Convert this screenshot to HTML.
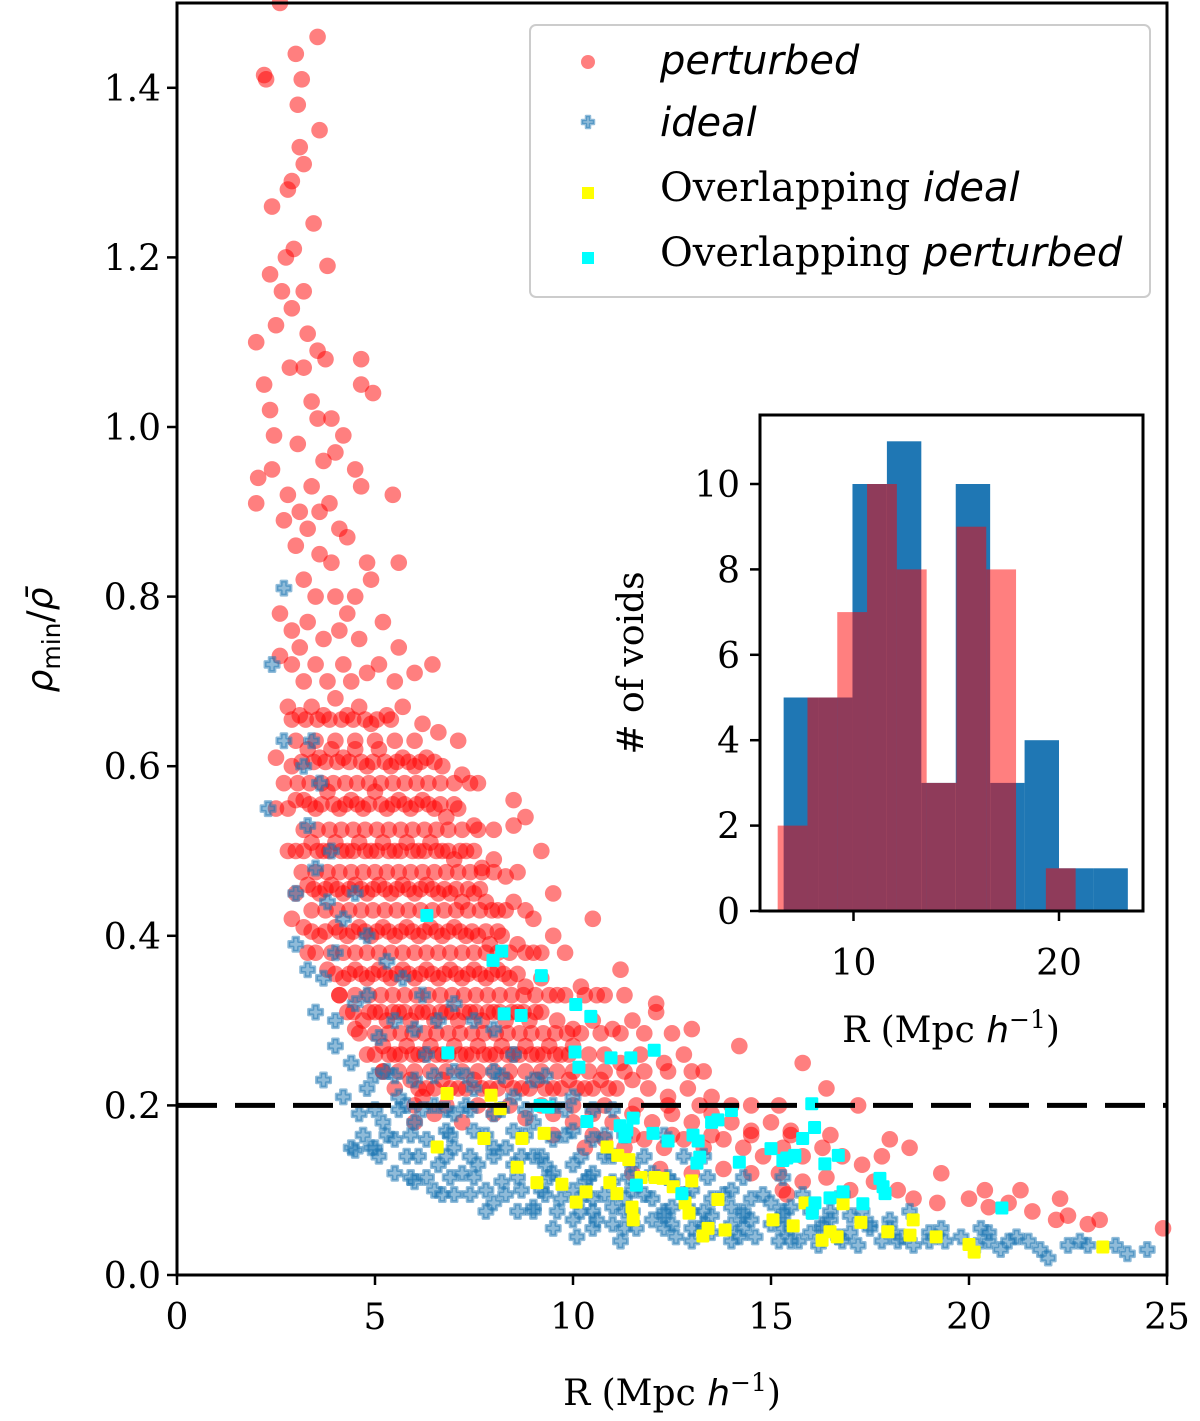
<!DOCTYPE html>
<html><head><meta charset="utf-8"><style>
html,body{margin:0;padding:0;background:#fff}
svg{display:block}
text{font-family:"DejaVu Serif","Liberation Serif",serif;fill:#000}
.it{font-family:"DejaVu Sans","Liberation Sans",sans-serif;font-style:italic}
</style></head><body>
<svg id="chart" width="1200" height="1421" viewBox="0 0 1200 1421" xmlns="http://www.w3.org/2000/svg">
<g id="main-marks"></g>
<g id="inset"></g>
<g id="axes"></g>
</svg>
<script>
const perturbedPts = [[2.2,1.415],[2.25,1.41],[2.6,1.5],[3.0,1.44],[3.15,1.41],[3.55,1.46],[3.05,1.38],[3.1,1.33],[2.9,1.29],[3.2,1.31],[2.8,1.28],[3.6,1.35],[3.45,1.24],[2.4,1.26],[2.35,1.18],[2.0,1.1],[2.65,1.16],[2.75,1.2],[2.95,1.21],[3.2,1.16],[3.8,1.19],[2.5,1.12],[2.9,1.14],[3.3,1.11],[3.2,1.07],[2.85,1.07],[3.55,1.09],[3.75,1.08],[4.65,1.08],[4.65,1.05],[4.95,1.04],[2.2,1.05],[2.35,1.02],[2.45,0.99],[3.05,0.98],[3.4,1.03],[3.55,1.01],[3.9,1.01],[4.2,0.99],[2.05,0.94],[2.4,0.95],[2.8,0.92],[3.1,0.9],[3.4,0.93],[3.7,0.96],[4.0,0.97],[4.5,0.95],[4.65,0.93],[5.45,0.92],[2.0,0.91],[2.7,0.89],[3.3,0.88],[3.6,0.9],[3.85,0.91],[4.1,0.88],[3.0,0.86],[3.6,0.85],[3.9,0.84],[4.3,0.87],[4.8,0.84],[5.6,0.84],[3.2,0.82],[3.5,0.8],[4.0,0.8],[4.3,0.78],[4.5,0.8],[4.9,0.82],[2.6,0.78],[2.9,0.76],[3.1,0.74],[3.3,0.77],[3.7,0.75],[4.1,0.76],[4.6,0.75],[5.2,0.77],[5.6,0.74],[6.45,0.72],[2.6,0.73],[2.9,0.72],[3.2,0.7],[3.5,0.72],[3.8,0.7],[4.2,0.72],[4.4,0.7],[4.8,0.71],[5.1,0.72],[5.5,0.7],[6.0,0.71],[2.8,0.67],[3.1,0.66],[3.4,0.67],[3.7,0.66],[4.0,0.68],[4.3,0.66],[4.6,0.67],[4.9,0.65],[5.3,0.66],[5.7,0.67],[6.2,0.65],[6.6,0.64],[7.1,0.63],
[2.5,0.61],[2.9,0.6],[3.3,0.62],[3.6,0.61],[3.9,0.62],[4.2,0.61],[4.5,0.62],[4.8,0.6],[5.1,0.62],[5.4,0.6],[5.7,0.61],[6.0,0.6],[6.3,0.61],[6.7,0.6],[7.2,0.59],[7.6,0.58],
[2.8,0.55],[3.2,0.56],[3.5,0.55],[3.8,0.57],[4.1,0.55],[4.4,0.56],[4.7,0.55],[5.0,0.57],[5.3,0.55],[5.6,0.56],[5.9,0.55],[6.2,0.56],[6.5,0.55],[6.8,0.54],[7.1,0.55],[7.5,0.53],[8.5,0.56],[8.8,0.54],
[3.0,0.5],[3.4,0.51],[3.7,0.5],[4.0,0.51],[4.3,0.5],[4.6,0.51],[4.9,0.5],[5.2,0.51],[5.5,0.5],[5.8,0.51],[6.1,0.5],[6.4,0.51],[6.7,0.5],[7.0,0.49],[7.3,0.5],[7.7,0.48],[8.0,0.49],[8.3,0.47],
[3.0,0.45],[3.3,0.46],[3.6,0.45],[3.9,0.46],[4.2,0.45],[4.5,0.46],[4.8,0.45],[5.1,0.46],[5.4,0.45],[5.7,0.46],[6.0,0.45],[6.3,0.46],[6.6,0.45],[6.9,0.45],[7.2,0.44],[7.5,0.45],[7.8,0.44],[8.1,0.43],[8.5,0.44],[9.0,0.42],
[3.2,0.41],[3.6,0.4],[4.0,0.41],[4.3,0.4],[4.6,0.41],[4.9,0.4],[5.2,0.41],[5.5,0.4],[5.8,0.41],[6.1,0.4],[6.4,0.41],[6.7,0.4],[7.0,0.41],[7.3,0.4],[7.6,0.4],[7.9,0.39],[8.2,0.4],[8.6,0.39],[9.0,0.38],[9.5,0.4],
[3.8,0.36],[4.2,0.35],[4.5,0.36],[4.8,0.35],[5.1,0.36],[5.4,0.35],[5.7,0.36],[6.0,0.35],[6.3,0.36],[6.6,0.35],[6.9,0.36],[7.2,0.35],[7.5,0.36],[7.8,0.35],[8.1,0.36],[8.4,0.35],[8.8,0.34],[9.2,0.35],[9.6,0.33],[10.2,0.34],[10.6,0.33],
[4.3,0.31],[4.7,0.3],[5.0,0.31],[5.3,0.3],[5.6,0.31],[5.9,0.3],[6.2,0.31],[6.5,0.3],[6.8,0.31],[7.1,0.3],[7.4,0.31],[7.7,0.3],[8.0,0.31],[8.3,0.3],[8.6,0.31],[8.9,0.3],[9.2,0.31],[9.6,0.3],[10.0,0.29],[10.5,0.3],[11.0,0.29],[11.5,0.3],[12.1,0.31],
[4.8,0.26],[5.2,0.27],[5.5,0.26],[5.8,0.27],[6.1,0.26],[6.4,0.27],[6.7,0.26],[7.0,0.27],[7.3,0.26],[7.6,0.27],[7.9,0.26],[8.2,0.27],[8.5,0.26],[8.8,0.27],[9.1,0.26],[9.4,0.27],[9.7,0.26],[10.0,0.27],[10.4,0.26],[10.8,0.26],[11.2,0.25],[11.7,0.26],[12.3,0.25],[12.8,0.26],[13.3,0.24],
[5.5,0.22],[5.9,0.23],[6.3,0.22],[6.7,0.23],[7.1,0.22],[7.5,0.23],[7.9,0.22],[8.3,0.23],[8.7,0.22],[9.1,0.23],[9.5,0.22],[9.9,0.23],[10.3,0.22],[10.7,0.23],[11.1,0.22],[11.5,0.23],[11.9,0.22],[12.4,0.21],[12.9,0.22],[13.5,0.21],[14.0,0.2],
[6.0,0.18],[6.5,0.19],[7.2,0.18],[8.0,0.19],[8.8,0.185],[9.5,0.19],[10.0,0.18],[10.5,0.19],[11.0,0.18],[11.5,0.19],[12.0,0.18],[12.5,0.19],[13.0,0.18],[13.5,0.19],[14.0,0.18],[14.5,0.17],[15.0,0.18],[15.5,0.17],
[10.3,0.15],[10.8,0.16],[11.3,0.15],[11.8,0.16],[12.3,0.15],[12.8,0.16],[13.3,0.15],[13.8,0.16],[14.3,0.15],[14.8,0.14],[15.3,0.15],[15.8,0.14],[16.3,0.15],[16.8,0.14],[17.3,0.13],[17.8,0.14],
[11.5,0.12],[12.2,0.125],[13.0,0.12],[13.8,0.125],[14.5,0.12],[15.2,0.12],[15.8,0.11],[16.4,0.115],[17.0,0.1],[17.6,0.11],[18.2,0.1],[18.6,0.09],[19.2,0.085],[20.0,0.09],[20.5,0.08],[21.0,0.085],[21.6,0.075],[22.2,0.065],[23.0,0.06],[24.9,0.055],[22.5,0.07],[15.3,0.1],[15.4,0.095],
[8.5,0.53],[9.2,0.5],[9.5,0.45],[10.5,0.42],[11.2,0.36],[12.1,0.32],[13.0,0.29],[14.2,0.27],[15.8,0.25],[16.4,0.22],[17.2,0.2],[18.0,0.16],[18.5,0.15],[19.3,0.12],[20.4,0.1],[21.3,0.1],[22.3,0.09],[23.3,0.065],[2.8,0.5],[3.0,0.56],[2.5,0.55],[3.3,0.38],[2.9,0.42],[4.1,0.33],[4.5,0.29],[5.2,0.24],[6.2,0.21]];
// additional perturbed points read from the dense core, grouped by rho: [rho, [R values]]
const perturbedCoreRows = [
[0.655,[2.9,3.25,3.55,3.85,4.15,4.45,4.75,5.05,5.4]],
[0.63,[3.0,3.5,4.0,4.5,5.0,5.5,6.0]],
[0.605,[3.15,3.45,3.75,4.05,4.35,4.65,4.95,5.25,5.55,5.85,6.15,6.5]],
[0.58,[2.7,3.05,3.35,3.65,3.95,4.25,4.55,4.85,5.15,5.45,5.75,6.05,6.35,6.65,7.0,7.4]],
[0.555,[3.35,3.65,3.95,4.25,4.55,4.85,5.15,5.45,5.75,6.05,6.35,6.65,7.0]],
[0.525,[3.2,3.55,3.85,4.15,4.45,4.75,5.05,5.35,5.65,5.95,6.25,6.55,6.85,7.2,7.6,8.0]],
[0.5,[3.2,3.55,3.85,4.15,4.45,4.75,5.05,5.35,5.65,5.95,6.25,6.55,6.85,7.15,7.5]],
[0.475,[3.15,3.5,3.8,4.1,4.4,4.7,5.0,5.3,5.6,5.9,6.2,6.5,6.8,7.1,7.4,7.7,8.0,8.6]],
[0.455,[3.45,3.75,4.05,4.35,4.65,4.95,5.25,5.55,5.85,6.15,6.45,6.75,7.05,7.35,7.65]],
[0.43,[3.4,3.75,4.05,4.35,4.65,4.95,5.25,5.55,5.85,6.15,6.45,6.75,7.05,7.35,7.65,7.95,8.3,8.8]],
[0.405,[3.4,3.75,4.1,4.45,4.75,5.05,5.35,5.65,5.95,6.25,6.55,6.85,7.15,7.45,7.8,8.1]],
[0.38,[3.5,3.9,4.2,4.5,4.8,5.1,5.4,5.7,6.0,6.3,6.6,6.9,7.2,7.5,7.8,8.1,8.4,8.8,9.2,9.8]],
[0.355,[4.0,4.35,4.65,4.95,5.25,5.55,5.85,6.15,6.45,6.75,7.05,7.35,7.65,7.95,8.25,8.6]],
[0.33,[4.1,4.5,4.85,5.15,5.45,5.75,6.05,6.35,6.65,6.95,7.25,7.55,7.85,8.15,8.45,8.75,9.05,9.4,9.8,10.3,10.8,11.3]],
[0.31,[4.45,4.85,5.15,5.45,5.75,6.05,6.35,6.65,6.95,7.25,7.55,7.85,8.15,8.45,8.75,9.05]],
[0.285,[4.6,5.0,5.35,5.65,5.95,6.25,6.55,6.85,7.15,7.45,7.75,8.05,8.35,8.65,8.95,9.25,9.55,9.85,10.2,10.7,11.2,11.8,12.5]],
[0.26,[5.0,5.35,5.65,5.95,6.25,6.55,6.85,7.15,7.45,7.75,8.05,8.35,8.65,8.95,9.25,9.55,9.9]],
[0.24,[5.2,5.6,6.0,6.4,6.8,7.2,7.6,8.0,8.4,8.8,9.2,9.6,10.0,10.4,10.8,11.3,11.8,12.4,13.0]],
[0.22,[6.1,6.5,6.9,7.3,7.7,8.1,8.5,8.9,9.3,9.7,10.1,10.5,10.9]],
[0.2,[6.0,6.8,7.6,8.4,9.2,10.0,10.8,11.6,12.4,13.2,14.5,15.2]],
[0.165,[9.5,10.5,11.5,12.5,13.5,14.5,15.5,16.5]]];
const idealPts = [[2.7,0.81],[2.4,0.72],[2.7,0.63],[2.3,0.55],[3.2,0.6],[3.4,0.63],[3.6,0.58],[3.3,0.53],[3.5,0.48],[3.0,0.45],[3.9,0.5],[3.8,0.44],[3.0,0.39],[3.3,0.36],[3.7,0.35],[4.0,0.38],[4.2,0.42],[4.5,0.45],[4.8,0.4],[3.5,0.31],[4.0,0.3],[4.5,0.32],[4.8,0.33],[5.3,0.37],[5.7,0.35],[6.2,0.33],[4.0,0.27],[4.4,0.25],[3.7,0.23],[4.2,0.21],[4.6,0.19],[4.4,0.15],[4.9,0.15],[4.8,0.22],[5.1,0.28],[5.5,0.3],[6.0,0.29],[6.6,0.3],[7.0,0.32],[7.5,0.3],[8.0,0.29],[5.3,0.24],[5.6,0.21],[5.2,0.18],[5.5,0.16],[5.8,0.14],[6.0,0.18],[6.0,0.23],[6.3,0.26],[6.5,0.2],[6.3,0.16],[6.6,0.13],[7.0,0.24],[7.0,0.19],[7.0,0.15],[7.2,0.12],[7.5,0.22],[7.5,0.17],[7.6,0.13],[7.8,0.1],[8.0,0.24],[8.0,0.19],[8.0,0.15],[8.2,0.11],[8.5,0.26],[8.5,0.21],[8.5,0.17],[8.5,0.13],[8.7,0.1],[9.0,0.23],[9.0,0.18],[9.0,0.14],[9.2,0.1],[9.0,0.08],[9.5,0.2],[9.5,0.16],[9.5,0.12],[9.7,0.09],[10.0,0.21],[10.0,0.17],[10.0,0.13],[10.0,0.1],[10.2,0.075],[10.5,0.16],[10.5,0.12],[10.5,0.09],[10.6,0.065],[11.0,0.14],[11.0,0.11],[11.0,0.08],[11.0,0.06],[11.5,0.13],[11.5,0.1],[11.5,0.075],[11.6,0.055],[12.0,0.12],[12.0,0.09],[12.0,0.065],[12.5,0.11],[12.5,0.08],[12.5,0.06],[12.6,0.045],[13.0,0.1],[13.0,0.075],[13.0,0.055],[13.5,0.09],[13.5,0.07],[13.5,0.05],[14.0,0.1],[14.0,0.08],[14.0,0.06],[14.2,0.045],[14.5,0.09],[14.5,0.065],[14.6,0.045],[15.0,0.085],[15.0,0.06],[15.2,0.04],[15.5,0.08],[15.5,0.055],[15.7,0.04],[16.0,0.075],[16.0,0.05],[16.2,0.035],[16.5,0.065],[16.7,0.045],[17.0,0.07],[17.0,0.05],[17.2,0.035],[17.5,0.06],[17.8,0.04],[18.0,0.065],[18.3,0.045],[18.6,0.035],[19.0,0.05],[19.4,0.04],[19.8,0.045],[20.2,0.035],[20.5,0.05],[20.8,0.03],[21.2,0.045],[21.5,0.04],[21.8,0.03],[22.0,0.02],[22.5,0.035],[23.0,0.035],[23.7,0.035],[24.0,0.025],[24.5,0.03],[4.5,0.147],[5.0,0.15],[5.5,0.12],[6.0,0.11],[6.5,0.1],[7.0,0.095],[8.0,0.085],[9.0,0.075],[10.0,0.065],[10.1,0.045],[5.8,0.2],[6.8,0.17],[7.3,0.2],[8.3,0.15],[9.3,0.13],[10.3,0.11],[11.3,0.09],[12.3,0.07],[13.3,0.06],[14.3,0.07],[15.3,0.07],[16.3,0.06]];
const idealCoreRows = [
[0.235,[5.0,5.5,6.5,7.3,8.2,9.3]],
[0.195,[5.0,5.6,6.2,6.8,7.4,8.2,8.8,9.8,10.5,11.0]],
[0.165,[4.7,5.3,5.9,6.9,7.8,8.8,9.8,10.8,11.3,12.3]],
[0.14,[5.1,6.1,6.8,7.4,8.0,8.7,9.2,10.2,10.8,11.8,12.8,13.3]],
[0.115,[5.9,6.3,6.9,7.5,8.6,9.4,10.4,11.4,12.4,13.4,14.3,15.3]],
[0.095,[6.7,7.4,8.3,9.3,10.3,10.8,11.8,12.8,13.8,14.8,15.8,16.8]],
[0.075,[7.8,8.6,9.6,10.5,11.3,12.3,13.3,14.3,15.3,16.5,17.3,18.5]],
[0.055,[9.5,10.5,11.3,12.3,13.3,14.3,15.3,16.3,17.5,18.0,19.3,20.3]],
[0.04,[11.2,13.0,14.0,15.5,16.8,18.2,19.0,20.5,21.0,22.8]]];
const overlapIdealPts = [[6.82,0.214],[7.93,0.212],[8.16,0.196],[6.57,0.151],[7.75,0.161],[8.71,0.161],[9.27,0.167],[8.59,0.127],[9.09,0.109],[9.72,0.107],[10.08,0.086],[10.33,0.098],[10.86,0.151],[11.13,0.141],[11.41,0.136],[10.93,0.109],[11.11,0.096],[11.49,0.08],[11.52,0.065],[11.72,0.115],[12.07,0.115],[12.27,0.114],[12.53,0.104],[12.83,0.085],[12.93,0.073],[13.0,0.111],[13.41,0.055],[13.28,0.046],[13.84,0.053],[13.66,0.089],[15.05,0.065],[15.56,0.058],[15.86,0.085],[16.82,0.084],[17.27,0.062],[16.29,0.041],[16.49,0.051],[16.67,0.045],[17.95,0.051],[18.51,0.047],[18.59,0.065],[19.17,0.045],[20.0,0.036],[20.13,0.027],[23.38,0.033]];
const overlapPerturbedPts = [[6.31,0.424],[8.2,0.382],[7.98,0.371],[9.2,0.353],[10.07,0.319],[10.45,0.305],[8.26,0.308],[8.69,0.306],[6.84,0.262],[10.05,0.263],[10.15,0.245],[10.96,0.256],[11.46,0.256],[12.05,0.265],[9.17,0.2],[9.37,0.198],[10.35,0.181],[11.19,0.176],[11.36,0.171],[11.52,0.185],[11.31,0.163],[12.02,0.167],[12.4,0.158],[13.03,0.165],[13.16,0.158],[13.5,0.18],[13.66,0.183],[14.0,0.194],[13.2,0.139],[13.13,0.132],[14.2,0.133],[15.0,0.149],[15.3,0.135],[15.6,0.141],[11.6,0.106],[12.75,0.096],[16.03,0.202],[16.1,0.174],[15.8,0.161],[15.4,0.138],[15.6,0.14],[16.36,0.131],[16.7,0.141],[17.75,0.114],[17.83,0.104],[17.88,0.096],[16.82,0.098],[16.49,0.091],[16.11,0.085],[16.04,0.073],[17.32,0.084],[20.83,0.079]];
const mainXTicks = [0,5,10,15,20,25];
const mainYTicks = [0.0,0.2,0.4,0.6,0.8,1.0,1.2,1.4];
const thresholdValue = 0.2;
const idealBinStart = 6.6, idealBinWidth = 1.675;
const idealCounts = [5,5,10,11,3,10,3,4,1,1];
const perturbedBinStart = 6.31, perturbedBinWidth = 1.45;
const perturbedCounts = [2,5,7,10,8,3,9,8,0,1];
const insetXTicks = [10,20];
const insetYTicks = [0,2,4,6,8,10];

const NS = "http://www.w3.org/2000/svg";
function mk(tag, attrs, parent){const e=document.createElementNS(NS,tag);for(const k in attrs)e.setAttribute(k,attrs[k]);parent.appendChild(e);return e;}
const L=177,R=1167,T=3,B=1275;
const sx=v=>L+v*(R-L)/25;
const sy=v=>B-v*848;
const marks=document.getElementById('main-marks');
const axes=document.getElementById('axes');
const rowsToPts=rows=>rows.flatMap(r=>r[1].map(x=>[x,r[0]]));
const allPerturbed=perturbedPts.concat(rowsToPts(perturbedCoreRows));
const allIdeal=idealPts.concat(rowsToPts(idealCoreRows));

allPerturbed.forEach(p=>{const c=mk('circle',{cx:sx(p[0]),cy:sy(p[1]),r:8.3,fill:'#ff0000','fill-opacity':0.5},marks);

});
function plusPath(x,y,s){const a=s*0.4,b=s;return `M${x-a},${y-b}L${x+a},${y-b}L${x+a},${y-a}L${x+b},${y-a}L${x+b},${y+a}L${x+a},${y+a}L${x+a},${y+b}L${x-a},${y+b}L${x-a},${y+a}L${x-b},${y+a}L${x-b},${y-a}L${x-a},${y-a}Z`;}
allIdeal.forEach(p=>{const e=mk('path',{d:plusPath(sx(p[0]),sy(p[1]),7),fill:'#1f77b4','fill-opacity':0.5,stroke:'#1f77b4','stroke-opacity':0.5,'stroke-width':3,'stroke-linejoin':'round'},marks);

});
overlapIdealPts.forEach(p=>{const e=mk('rect',{x:sx(p[0])-6.5,y:sy(p[1])-6.5,width:13,height:13,rx:1.5,fill:'#ffff00'},marks);

});
overlapPerturbedPts.forEach(p=>{const e=mk('rect',{x:sx(p[0])-6.5,y:sy(p[1])-6.5,width:13,height:13,rx:1.5,fill:'#00ffff'},marks);

});
const th=mk('line',{x1:L,x2:R,y1:sy(thresholdValue),y2:sy(thresholdValue),stroke:'#000','stroke-width':5,'stroke-dasharray':'40 18'},marks);



const fr=mk('rect',{x:L,y:T,width:R-L,height:B-T,fill:'none',stroke:'#000','stroke-width':3},axes);


mainXTicks.forEach(v=>{mk('line',{x1:sx(v),x2:sx(v),y1:B,y2:B+10,stroke:'#000','stroke-width':2.5},axes);
const t=mk('text',{x:sx(v),y:B+54,'font-size':36,'text-anchor':'middle'},axes);t.textContent=v;

});
mainYTicks.forEach(v=>{mk('line',{x1:L-10,x2:L,y1:sy(v),y2:sy(v),stroke:'#000','stroke-width':2.5},axes);
const t=mk('text',{x:L-16,y:sy(v)+13,'font-size':36,'text-anchor':'end'},axes);t.textContent=v.toFixed(1);

});
</script>
<script>
(function(){
const NS="http://www.w3.org/2000/svg";const axes=document.getElementById('axes');
const xl=document.createElementNS(NS,'text');xl.setAttribute('x',672);xl.setAttribute('y',1405);xl.setAttribute('font-size',36);xl.setAttribute('text-anchor','middle');
xl.innerHTML='R (Mpc <tspan class="it">h</tspan><tspan dy="-14" font-size="25">−1</tspan><tspan dy="14">)</tspan>';


axes.appendChild(xl);
const yl=document.createElementNS(NS,'text');yl.setAttribute('transform','translate(52,640) rotate(-90)');yl.setAttribute('font-size',36);yl.setAttribute('text-anchor','middle');yl.setAttribute('class','it');
yl.innerHTML='ρ<tspan dy="8" font-size="25" font-style="normal">min</tspan><tspan dy="-8" font-style="normal">/</tspan>ρ̄';


axes.appendChild(yl);
const lg=document.createElementNS(NS,'g');


axes.appendChild(lg);
lg.innerHTML=`<rect x="530" y="25" width="620" height="272" rx="6" fill="#fff" fill-opacity="0.8" stroke="#ccc" stroke-width="2"/>
<circle cx="588" cy="62" r="7" fill="#ff0000" fill-opacity="0.5"/>
<text x="660" y="74" font-size="40" class="it">perturbed</text>
<path d="M586,116h4v4h4v4h-4v4h-4v-4h-4v-4h4z" fill="#1f77b4" fill-opacity="0.5" stroke="#1f77b4" stroke-opacity="0.5" stroke-width="2.5" stroke-linejoin="round"/>
<text x="660" y="136" font-size="40" class="it">ideal</text>
<rect x="582" y="187" width="12" height="12" fill="#ffff00"/>
<text x="660" y="201" font-size="40">Overlapping <tspan class="it">ideal</tspan></text>
<rect x="582" y="252" width="12" height="12" fill="#00ffff"/>
<text x="660" y="266" font-size="40">Overlapping <tspan class="it">perturbed</tspan></text>`;
})();
(function(){
const NS="http://www.w3.org/2000/svg";const g=document.getElementById('inset');
function mk(tag,a){const e=document.createElementNS(NS,tag);for(const k in a)e.setAttribute(k,a[k]);g.appendChild(e);return e;}
const IL=760,IR=1143,IT=415,IB=911;
const ix=v=>648+v*20.55;
const iy=v=>IB-v*42.7;
mk('rect',{x:IL,y:IT,width:IR-IL,height:IB-IT,fill:'#fff'});
idealCounts.forEach((c,i)=>{if(!c)return;const x0=ix(idealBinStart+i*idealBinWidth),x1=ix(idealBinStart+(i+1)*idealBinWidth);
const r=mk('rect',{x:x0,y:iy(c),width:x1-x0,height:iy(0)-iy(c),fill:'#1f77b4'});

});
perturbedCounts.forEach((c,i)=>{if(!c)return;const x0=ix(perturbedBinStart+i*perturbedBinWidth),x1=ix(perturbedBinStart+(i+1)*perturbedBinWidth);
const r=mk('rect',{x:x0,y:iy(c),width:x1-x0,height:iy(0)-iy(c),fill:'#ff0000','fill-opacity':0.5});

});
const f=mk('rect',{x:IL,y:IT,width:IR-IL,height:IB-IT,fill:'none',stroke:'#000','stroke-width':3});


insetXTicks.forEach(v=>{mk('line',{x1:ix(v),x2:ix(v),y1:IB,y2:IB+10,stroke:'#000','stroke-width':2.5});
const t=mk('text',{x:ix(v),y:IB+64,'font-size':36,'text-anchor':'middle'});t.textContent=v;

});
insetYTicks.forEach(v=>{mk('line',{x1:IL-10,x2:IL,y1:iy(v),y2:iy(v),stroke:'#000','stroke-width':2.5});
const t=mk('text',{x:IL-20,y:iy(v)+13,'font-size':36,'text-anchor':'end'});t.textContent=v;

});
const xl=mk('text',{x:951,y:1042,'font-size':36,'text-anchor':'middle'});
xl.innerHTML='R (Mpc <tspan class="it">h</tspan><tspan dy="-14" font-size="25">−1</tspan><tspan dy="14">)</tspan>';


const yl=mk('text',{transform:'translate(643,663) rotate(-90)','font-size':36,'text-anchor':'middle'});
yl.textContent='# of voids';


})();
</script>
</body></html>
